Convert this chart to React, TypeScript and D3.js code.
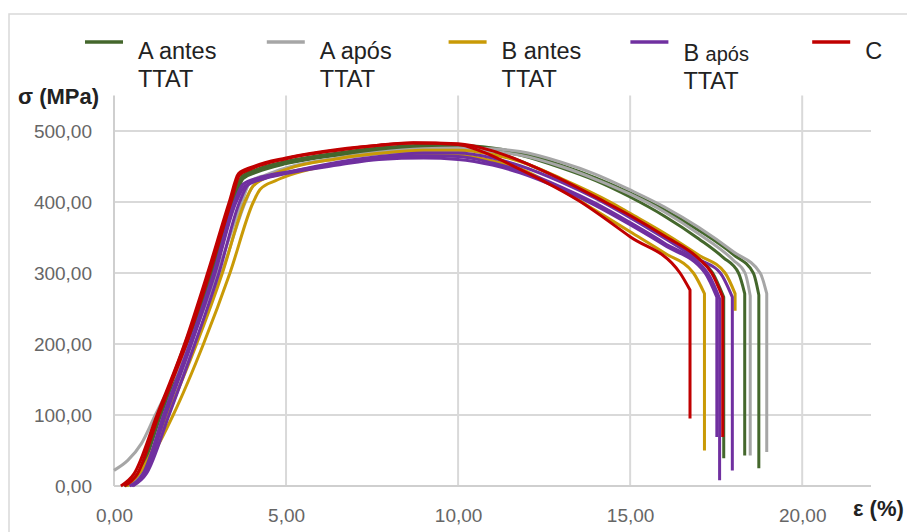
import React, { useEffect, useRef } from "react";
import * as d3 from "d3";

// legend / series
const seriesNames = ["A antes TTAT", "A após TTAT", "B antes TTAT", "B após TTAT", "C"];
const seriesColors = ["#44672c", "#a6a6a6", "#c99a06", "#7030a0", "#c00000"];

// tick values
const xTicks = [0, 5, 10, 15, 20];
const yTicks = [0, 100, 200, 300, 400, 500];

// [ε (%), σ (MPa)]; last point = end of the vertical drop at rupture
const aAntes = [
  [[0.3,0],[0.7,18],[1.32,100],[2.08,200],[2.8,300],[3.47,400],[3.72,435],[4.1,443],[5,455],[6.5,467],[7.7,474],[9,478],[10,478],[11,471],[11.8,458],[13,432],[14.3,400],[15,382],[16,353],[17,320],[17.4,300],[17.72,266],[17.72,39]],
  [[0.35,0],[0.75,18],[1.36,100],[2.12,200],[2.85,300],[3.5,400],[3.75,433],[4.15,442],[5,454],[6.5,466],[7.7,473],[9,477],[10,478],[11,474],[11.8,466],[13,448],[14,430],[15,407],[16,380],[17,348],[17.7,322],[18.15,300],[18.33,271],[18.33,43]],
  [[0.3,0],[0.7,18],[1.3,100],[2.06,200],[2.8,300],[3.46,400],[3.72,436],[4.1,445],[5,457],[6.5,469],[7.7,476],[9,480],[10,480],[11,476],[11.8,469],[13,452],[14,434],[15,413],[16,389],[17,360],[18,326],[18.58,300],[18.74,269],[18.74,25]],
];
const aApos = [
  [[0.4,0],[0.85,18],[1.58,100],[2.35,200],[3.13,300],[3.82,400],[4.03,422],[4.5,436],[5,447],[6.5,461],[7.7,468],[9,472],[10,473],[11,471],[11.8,466],[13,450],[14,432],[15,411],[16,386],[17,355],[18,318],[18.34,300],[18.49,268],[18.49,43]],
  [[0,22],[0.4,36],[0.8,60],[1.2,100],[2.2,200],[3.0,300],[3.72,400],[3.95,428],[4.4,438],[5,448],[6.5,462],[7.7,470],[9,475],[10,476],[11,475],[11.8,471],[13,456],[14,439],[15,417],[16,393],[17,364],[18,330],[18.78,300],[18.97,271],[18.97,48]],
];
const bAntes = [
  [[0.4,0],[1.05,38],[1.72,100],[2.6,200],[3.37,300],[4.05,400],[4.25,418],[4.7,430],[5,436],[6.5,454],[7.7,462],[9,466],[10,466],[11,458],[11.8,447],[13,417],[14,388],[15,358],[16,328],[16.84,300],[17.16,271],[17.16,50]],
  [[0.35,0],[0.9,30],[1.55,100],[2.4,200],[3.15,300],[3.8,400],[4.02,421],[4.5,436],[5,446],[6.5,461],[7.7,468.5],[9,473],[10,473],[11,467],[11.8,457],[13,433],[14.42,400],[15,384],[16,356],[17,325],[17.76,300],[18.05,271],[18.05,247]],
];
const bApos = [
  [[0.5,0],[0.9,18],[1.5,100],[2.25,200],[2.94,300],[3.55,400],[3.8,422],[4.3,432],[5,440],[6.5,452],[7.7,460],[9,462],[10,460],[11,452],[11.8,441],[13,418],[14,395],[15,368],[16,339],[17.18,300],[17.52,266],[17.52,69]],
  [[0.45,0],[0.85,18],[1.44,100],[2.2,200],[2.9,300],[3.5,400],[3.75,425],[4.2,434],[5,442],[6.5,454],[7.7,462],[9,465],[10,464],[11,455],[11.8,444],[13,421],[14,398],[15,371],[16,342],[17.25,300],[17.6,264],[17.6,8]],
  [[0.55,0],[0.95,18],[1.6,100],[2.35,200],[3.05,300],[3.65,400],[3.9,424],[4.4,434],[5,441],[6.5,456],[7.7,464],[9,469],[10,469],[11,462],[11.8,451],[13,428],[14,405],[15,378],[16,349],[17,319],[17.62,300],[17.97,266],[17.97,22]],
];
const cCurves = [
  [[0.2,0],[0.58,17],[1.25,100],[2.05,200],[2.72,300],[3.35,400],[3.62,440],[4.0,449],[5,462],[6.5,474],[7.7,480],[8.7,483],[10,481],[10.64,472],[11.8,446],[13.5,402],[15,351],[16.45,300],[16.74,276],[16.74,95]],
  [[0.3,0],[0.68,17],[1.3,100],[2.1,200],[2.78,300],[3.4,400],[3.65,438],[4.0,447],[5,461],[6.5,473],[7.7,480],[8.7,483.5],[10,482],[11,472],[11.8,458],[13,432],[14.27,400],[15,381],[16,352],[17,320],[17.37,300],[17.69,266],[17.69,69]],
];
const allSeries = [aAntes, aApos, bAntes, bApos, cCurves];

const FONT = "'Liberation Sans', Arial, sans-serif";
const fmt = (d: number) => d3.format(".2f")(d).replace(".", ",");

export default function App() {
  const ref = useRef<SVGSVGElement>(null);

  useEffect(() => {
    const W = 907, H = 532;
    const margin = { left: 114, right: 36, top: 95.5, bottom: 46 };
    const svg = d3.select(ref.current);
    svg.selectAll("*").remove();

    // chart frame
    svg.append("rect")
      .attr("x", 9).attr("y", 14)
      .attr("width", W).attr("height", H)
      .attr("fill", "#fff")
      .attr("stroke", "#d9d9d9")
      .attr("stroke-width", 1.5);

    const x = d3.scaleLinear().domain([0, 22]).range([margin.left, W - margin.right]);
    const y = d3.scaleLinear().domain([0, 550]).range([H - margin.bottom, margin.top]);

    // grid
    svg.append("g").selectAll("line")
      .data(yTicks.filter(d => d > 0))
      .enter().append("line")
      .attr("x1", x(0)).attr("x2", x(22))
      .attr("y1", d => y(d)).attr("y2", d => y(d))
      .attr("stroke", "#d9d9d9").attr("stroke-width", 2);
    svg.append("g").selectAll("line")
      .data(xTicks.filter(d => d > 0))
      .enter().append("line")
      .attr("y1", y(0)).attr("y2", y(550))
      .attr("x1", d => x(d)).attr("x2", d => x(d))
      .attr("stroke", "#d9d9d9").attr("stroke-width", 2);

    // axis lines
    svg.append("line")
      .attr("x1", x(0)).attr("x2", x(0)).attr("y1", y(0)).attr("y2", y(550))
      .attr("stroke", "#cfcfcf").attr("stroke-width", 2);
    svg.append("line")
      .attr("x1", x(0)).attr("x2", x(22)).attr("y1", y(0)).attr("y2", y(0))
      .attr("stroke", "#cfcfcf").attr("stroke-width", 2);

    // tick labels
    const xAxis = svg.append("g")
      .attr("transform", `translate(0, ${y(0)})`)
      .call(d3.axisBottom(x).tickValues(xTicks).tickSize(0).tickPadding(23).tickFormat(fmt as any));
    const yAxis = svg.append("g")
      .attr("transform", `translate(${x(0)}, 0)`)
      .call(d3.axisLeft(y).tickValues(yTicks).tickSize(0).tickPadding(22).tickFormat(fmt as any));
    [xAxis, yAxis].forEach(g => {
      g.select(".domain").remove();
      g.selectAll("text")
        .attr("font-family", FONT)
        .attr("font-size", 19)
        .attr("fill", "#666");
    });

    // curves
    const line = d3.line<number[]>()
      .x(d => x(d[0]))
      .y(d => y(d[1]))
      .curve(d3.curveMonotoneX);

    allSeries.forEach((curves, i) => {
      curves.forEach(pts => {
        const body = pts.slice(0, -1);
        const drop = pts[pts.length - 1];
        svg.append("path")
          .attr("d", line(body) + `L${x(drop[0])},${y(drop[1])}`)
          .attr("fill", "none")
          .attr("stroke", seriesColors[i])
          .attr("stroke-width", 3)
          .attr("stroke-linejoin", "round");
      });
    });

    // axis titles
    svg.append("text")
      .attr("x", 18).attr("y", 104)
      .attr("font-family", FONT).attr("font-size", 22).attr("font-weight", "bold")
      .attr("fill", "#222")
      .text("σ (MPa)");
    svg.append("text")
      .attr("x", 853).attr("y", 516)
      .attr("font-family", FONT).attr("font-size", 22).attr("font-weight", "bold")
      .attr("fill", "#222")
      .text("ε (%)");

    // legend
    const legend = svg.append("g");
    seriesNames.forEach((name, i) => {
      const lx = 85 + i * 181.8;
      legend.append("line")
        .attr("x1", lx).attr("x2", lx + 38)
        .attr("y1", 42).attr("y2", 42)
        .attr("stroke", seriesColors[i]).attr("stroke-width", 3.5);
      const words = name.split(" ");
      const first = words.slice(0, 2).join(" ");
      const second = words.slice(2).join(" ");
      const shift = i === 3 ? 2 : 0;
      const t = legend.append("text")
        .attr("font-family", FONT).attr("font-size", 23.5).attr("fill", "#222");
      if (i === 3) {
        t.append("tspan").attr("x", lx + 53).attr("y", 59 + shift).text(words[0] + " ");
        t.append("tspan").attr("font-size", 20).text(words[1]);
      } else {
        t.append("tspan").attr("x", lx + 53).attr("y", 59).text(first);
      }
      if (second) {
        t.append("tspan").attr("x", lx + 53).attr("y", 87 + shift).attr("font-size", 23.5).text(second);
      }
    });
  }, []);

  return (
    <svg
      ref={ref}
      width={907}
      height={532}
      style={{ position: "absolute", left: 0, top: 0, background: "#fff" }}
    />
  );
}
